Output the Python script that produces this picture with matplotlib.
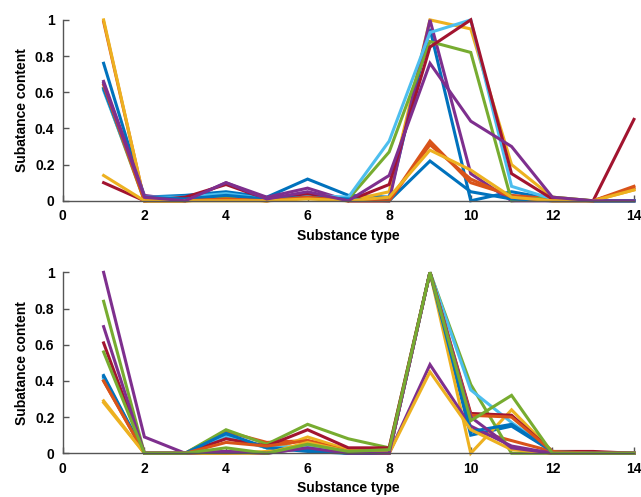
import numpy as np
import matplotlib.pyplot as plt

plt.rcParams['font.family'] = ['Liberation Sans', 'DejaVu Sans']
plt.rcParams['font.weight'] = 'bold'

substance = [1, 2, 3, 4, 5, 6, 7, 8, 9, 10, 11, 12, 13, 14]

# MATLAB default colour order
colors = ['#0072BD', '#D95319', '#EDB120', '#7E2F8E', '#77AC30', '#4DBEEE', '#A2142F']

top_values = [
    [0.76, 0.02, 0.03, 0.05, 0.02, 0.12, 0.03, 0.02, 0.95, 0.00, 0.05, 0.01, 0.00, 0.00],
    [0.99, 0.00, 0.00, 0.02, 0.00, 0.02, 0.00, 0.00, 0.33, 0.10, 0.03, 0.01, 0.00, 0.08],
    [1.00, 0.00, 0.00, 0.01, 0.00, 0.03, 0.00, 0.05, 1.00, 0.95, 0.20, 0.02, 0.00, 0.06],
    [0.66, 0.03, 0.00, 0.10, 0.02, 0.07, 0.00, 0.00, 1.00, 0.15, 0.00, 0.00, 0.00, 0.00],
    [0.62, 0.00, 0.00, 0.02, 0.00, 0.04, 0.01, 0.27, 0.88, 0.82, 0.00, 0.02, 0.00, 0.00],
    [0.61, 0.02, 0.02, 0.04, 0.01, 0.03, 0.02, 0.33, 0.93, 1.00, 0.08, 0.01, 0.00, 0.00],
    [0.10, 0.00, 0.02, 0.09, 0.01, 0.04, 0.00, 0.09, 0.85, 1.00, 0.15, 0.01, 0.00, 0.45],
    [0.62, 0.02, 0.01, 0.03, 0.01, 0.02, 0.01, 0.00, 0.22, 0.05, 0.01, 0.00, 0.00, 0.00],
    [0.64, 0.00, 0.00, 0.01, 0.00, 0.02, 0.00, 0.00, 0.31, 0.12, 0.02, 0.00, 0.00, 0.07],
    [0.14, 0.00, 0.00, 0.00, 0.00, 0.01, 0.00, 0.02, 0.28, 0.17, 0.02, 0.00, 0.00, 0.06],
    [0.65, 0.02, 0.00, 0.10, 0.01, 0.05, 0.00, 0.14, 0.76, 0.44, 0.30, 0.02, 0.00, 0.00],
]

bottom_values = [
    [0.42, 0.00, 0.00, 0.10, 0.03, 0.01, 0.00, 0.00, 1.00, 0.10, 0.15, 0.01, 0.00, 0.00],
    [0.40, 0.00, 0.00, 0.12, 0.06, 0.07, 0.02, 0.01, 1.00, 0.13, 0.07, 0.01, 0.00, 0.00],
    [0.29, 0.00, 0.00, 0.00, 0.01, 0.09, 0.02, 0.00, 1.00, 0.00, 0.24, 0.01, 0.00, 0.00],
    [1.00, 0.09, 0.00, 0.01, 0.00, 0.03, 0.00, 0.00, 0.49, 0.15, 0.04, 0.00, 0.00, 0.00],
    [0.84, 0.00, 0.00, 0.13, 0.05, 0.16, 0.08, 0.03, 1.00, 0.38, 0.00, 0.00, 0.00, 0.00],
    [0.41, 0.00, 0.00, 0.09, 0.03, 0.04, 0.01, 0.00, 1.00, 0.35, 0.17, 0.01, 0.00, 0.00],
    [0.61, 0.00, 0.00, 0.08, 0.04, 0.13, 0.03, 0.03, 1.00, 0.22, 0.21, 0.01, 0.01, 0.00],
    [0.43, 0.00, 0.00, 0.11, 0.03, 0.02, 0.00, 0.00, 1.00, 0.12, 0.16, 0.01, 0.00, 0.00],
    [0.40, 0.00, 0.00, 0.06, 0.04, 0.07, 0.01, 0.00, 1.00, 0.21, 0.20, 0.01, 0.00, 0.00],
    [0.28, 0.00, 0.00, 0.00, 0.00, 0.06, 0.01, 0.00, 0.45, 0.13, 0.02, 0.00, 0.00, 0.00],
    [0.70, 0.00, 0.00, 0.01, 0.00, 0.03, 0.00, 0.00, 1.00, 0.20, 0.03, 0.00, 0.00, 0.00],
    [0.56, 0.00, 0.00, 0.03, 0.00, 0.05, 0.01, 0.02, 1.00, 0.18, 0.32, 0.00, 0.00, 0.00],
]

fig = plt.figure(figsize=(6.41, 4.97), dpi=100)
ax_top = fig.add_axes([0.098, 0.596, 0.891, 0.364])
ax_bot = fig.add_axes([0.098, 0.088, 0.891, 0.364])

for ax, values in [(ax_top, top_values), (ax_bot, bottom_values)]:
    for i, row in enumerate(values):
        ax.plot(substance, row, color=colors[i % len(colors)], linewidth=2.2,
                solid_joinstyle='miter', clip_on=False)
    ax.set_xlim(0, 14)
    ax.set_ylim(0, 1)
    ax.set_xticks(np.arange(0, 15, 2))
    ax.set_yticks([0, 0.2, 0.4, 0.6, 0.8, 1])
    ax.set_yticklabels(['0', '0.2', '0.4', '0.6', '0.8', '1'])
    ax.spines['top'].set_visible(False)
    ax.spines['right'].set_visible(False)
    for s in ['left', 'bottom']:
        ax.spines[s].set_color('#555555')
        ax.spines[s].set_linewidth(1)
    ax.tick_params(direction='in', length=4, width=1, color='#555555',
                   labelsize=10, pad=6)
    for lab in ax.get_xticklabels() + ax.get_yticklabels():
        lab.set_fontweight('bold')
    ax.set_xlabel('Substance type', fontsize=10, fontweight='bold', labelpad=4)
    ax.set_ylabel('Subatance content', fontsize=10, fontweight='bold', labelpad=4)

fig.savefig('out.png', dpi=100)
